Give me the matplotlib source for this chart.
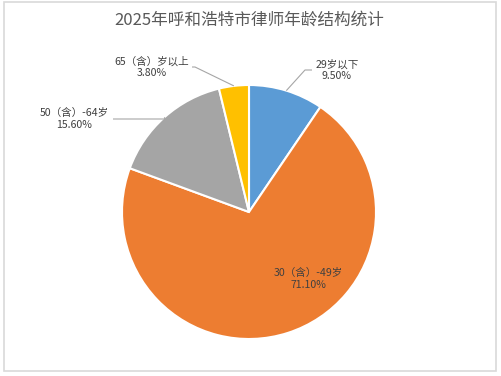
import numpy as np
import matplotlib
matplotlib.use("Agg")
import matplotlib.pyplot as plt
from matplotlib.patches import Rectangle

plt.rcParams['font.family'] = ['Noto Sans CJK SC', 'DejaVu Sans']

title = "2025年呼和浩特市律师年龄结构统计"
categories = ["29岁以下", "30（含）-49岁", "50（含）-64岁", "65（含）岁以上"]
values = [9.5, 71.1, 15.6, 3.8]
pct_labels = ["9.50%", "71.10%", "15.60%", "3.80%"]
colors = ["#5B9BD5", "#ED7D31", "#A5A5A5", "#FFC000"]

W, H = 501, 376
fig = plt.figure(figsize=(W / 100, H / 100), dpi=100)
ax = fig.add_axes([0, 0, 1, 1])

def P(x, y):
    return x, H - y

cx, cy = P(249, 212)
R = 127
wedges, _ = ax.pie(values, colors=colors, startangle=90, counterclock=False,
                   center=(cx, cy), radius=R, frame=True,
                   wedgeprops=dict(edgecolor="white", linewidth=1.5))
ax.set_xlim(0, W)
ax.set_ylim(0, H)
ax.axis("off")

# border
ax.add_patch(Rectangle(P(4, 371), 492, 369, fill=False, edgecolor="#D9D9D9", linewidth=1.2))

ax.text(*P(249, 20), title, ha="center", va="center", fontsize=12, color="#595959")

txt = "#404040"
fs = 7.6
lc = "#A6A6A6"

def mid_point(w):
    t = np.deg2rad((w.theta1 + w.theta2) / 2)
    return cx + R * np.cos(t), cy + R * np.sin(t)

# label layout: (label center, leader line points)
layout = {
    0: ((337, 70), [(305, 70), (312, 70)]),
    2: ((74, 119), [(165, 119), (113, 119)]),
    3: ((152, 67), [(195, 67), (192, 67)]),
}
for i, (center, pts) in layout.items():
    sx, sy = mid_point(wedges[i])
    xs = [sx] + [P(*p)[0] for p in pts]
    ys = [sy] + [P(*p)[1] for p in pts]
    ax.plot(xs, ys, color=lc, linewidth=0.8, solid_capstyle="butt")
    x, y = P(*center)
    ax.text(x, y, categories[i] + "\n" + pct_labels[i], ha="center", va="center",
            fontsize=fs, color=txt, linespacing=1.2)

x, y = P(308, 279)
ax.text(x, y, categories[1] + "\n" + pct_labels[1], ha="center", va="center",
        fontsize=fs, color=txt, linespacing=1.2)

fig.savefig("out.png", dpi=100, facecolor="white")
